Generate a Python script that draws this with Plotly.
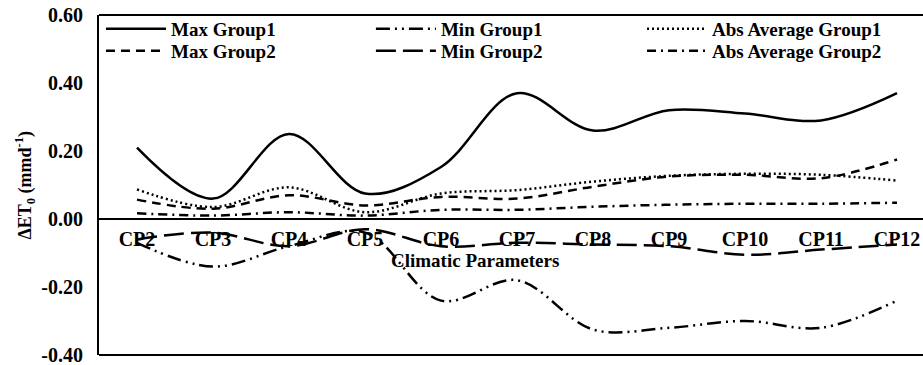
import plotly.graph_objects as go

categories = ["CP2", "CP3", "CP4", "CP5", "CP6", "CP7", "CP8", "CP9", "CP10", "CP11", "CP12"]
max_group1 = [0.21, 0.06, 0.25, 0.075, 0.153, 0.37, 0.26, 0.32, 0.31, 0.29, 0.37]
min_group1 = [-0.07, -0.14, -0.08, -0.04, -0.24, -0.18, -0.325, -0.32, -0.30, -0.32, -0.24]
abs_avg_group1 = [0.087, 0.035, 0.093, 0.02, 0.075, 0.085, 0.11, 0.127, 0.133, 0.13, 0.113]
max_group2 = [0.057, 0.03, 0.07, 0.04, 0.065, 0.06, 0.095, 0.125, 0.13, 0.12, 0.175]
min_group2 = [-0.06, -0.04, -0.08, -0.03, -0.08, -0.07, -0.075, -0.08, -0.105, -0.09, -0.075]
abs_avg_group2 = [0.017, 0.01, 0.02, 0.01, 0.027, 0.027, 0.036, 0.042, 0.045, 0.045, 0.048]
y_ticks = [-0.4, -0.2, 0.0, 0.2, 0.4, 0.6]
y_tick_labels = ["-0.40", "-0.20", "0.00", "0.20", "0.40", "0.60"]

FONT = "Liberation Serif, Times New Roman, serif"

# name, values, dash, legend id, legend x (paper), legend y (paper)
series = [
    ("Max Group1", max_group1, "solid", "legend", 0.0024, 1.0147),
    ("Min Group1", min_group1, "14px,5px,2px,5px,2px,5px", "legend2", 0.330, 1.0147),
    ("Abs Average Group1", abs_avg_group1, "2px,3px", "legend3", 0.659, 1.0147),
    ("Max Group2", max_group2, "9px,6px", "legend4", 0.0024, 0.950),
    ("Min Group2", min_group2, "20px,7px", "legend5", 0.330, 0.950),
    ("Abs Average Group2", abs_avg_group2, "9px,5px,2px,5px", "legend6", 0.659, 0.950),
]

fig = go.Figure()
legend_layout = {}
for name, vals, dash, lg, lx, ly in series:
    fig.add_trace(go.Scatter(
        x=categories, y=vals, name=name, mode="lines", legend=lg,
        line=dict(color="black", width=2.5, dash=dash, shape="spline", smoothing=1),
    ))
    legend_layout[lg] = dict(
        orientation="v", x=lx, y=ly, xanchor="left", yanchor="top",
        bgcolor="rgba(0,0,0,0)", itemwidth=60,
        font=dict(family=FONT, size=19, color="black", weight="bold"),
    )

fig.update_layout(
    width=923, height=365,
    margin=dict(l=99, r=0, t=15, b=10),
    paper_bgcolor="white", plot_bgcolor="white",
    font=dict(family=FONT, size=19, color="black"),
    showlegend=True,
    xaxis=dict(
        type="category", range=[-0.5, 10.342],
        anchor="free", position=0.4,
        showline=False, showgrid=False, zeroline=False, ticks="",
        tickfont=dict(family=FONT, size=20, color="black", weight="bold"),
        ticklabelstandoff=6, ticklabeloverflow="allow",
    ),
    yaxis=dict(
        range=[-0.4, 0.6], tickvals=y_ticks, ticktext=y_tick_labels,
        showgrid=False, ticks="", showline=True, linecolor="black", linewidth=2,
        zeroline=True, zerolinecolor="black", zerolinewidth=2,
        tickfont=dict(family=FONT, size=20, color="black", weight="bold"),
        ticklabelstandoff=10, ticklabeloverflow="allow",
    ),
    shapes=[
        dict(type="line", xref="paper", yref="paper", x0=0, x1=1, y0=1, y1=1,
             line=dict(color="black", width=2)),
        dict(type="line", xref="paper", yref="paper", x0=0, x1=1, y0=0, y1=0,
             line=dict(color="black", width=2)),
    ],
    annotations=[
        dict(text="<b>Climatic Parameters</b>", xref="paper", yref="paper",
             x=0.4563, y=0.279, xanchor="center", yanchor="middle", showarrow=False,
             font=dict(family=FONT, size=19, color="black")),
        dict(text="<b>ΔET<sub>0</sub> (mmd<sup>-1</sup>)</b>", xref="paper", yref="paper",
             x=-0.0898, y=0.4985, xanchor="center", yanchor="middle", showarrow=False,
             textangle=-90, font=dict(family=FONT, size=18, color="black")),
    ],
)
fig.update_layout(**legend_layout)

fig.write_html("out.html")
